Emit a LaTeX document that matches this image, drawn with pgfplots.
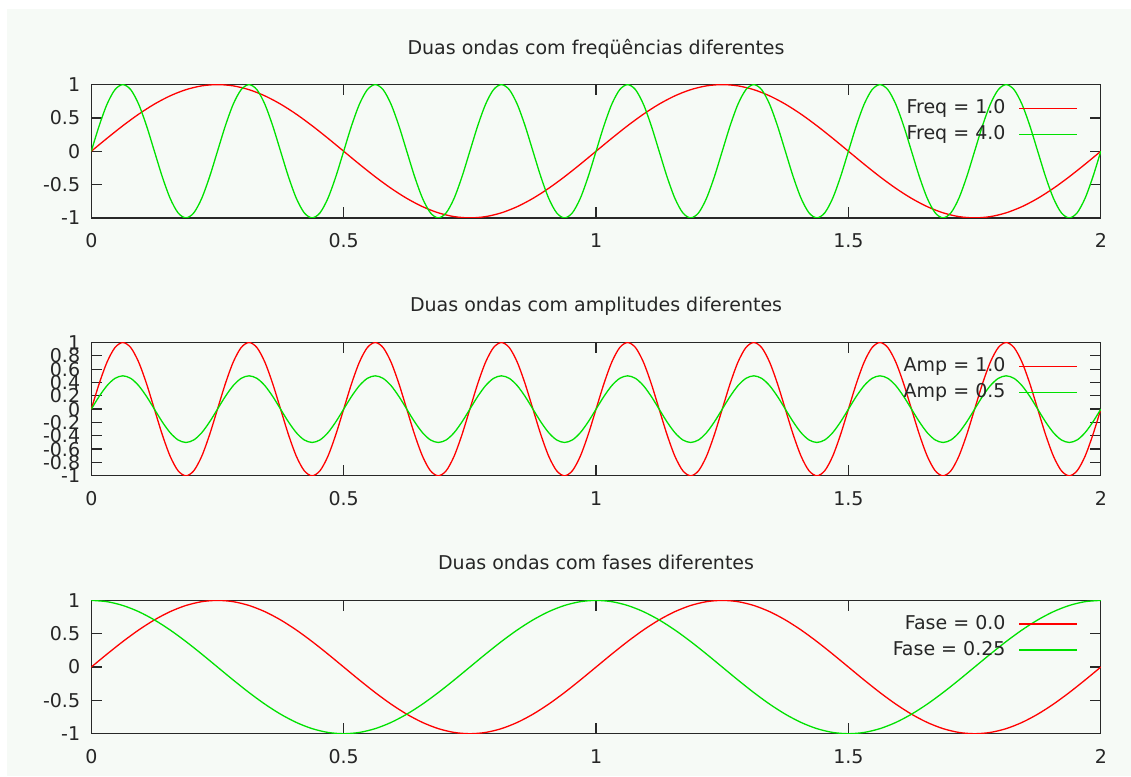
\documentclass[border=0pt]{standalone}
\usepackage{fontspec}
\setmainfont{DejaVu Sans}
\usepackage{pgfplots}
\pgfplotsset{compat=1.18}
\usepackage{pgfplotstable}

\definecolor{bgc}{RGB}{246,250,246}
\definecolor{wred}{RGB}{255,0,0}
\definecolor{wgreen}{RGB}{0,225,0}
\definecolor{frm}{RGB}{40,40,40}
\newcommand\fsz{\fontsize{19}{23}\selectfont}

% freq 1 sine and cosine, x step 1/32
\pgfplotstableread{
x s c
0 0 1
0.03125 0.1951 0.9808
0.0625 0.3827 0.9239
0.09375 0.5556 0.8315
0.125 0.7071 0.7071
0.15625 0.8315 0.5556
0.1875 0.9239 0.3827
0.21875 0.9808 0.1951
0.25 1 0
0.28125 0.9808 -0.1951
0.3125 0.9239 -0.3827
0.34375 0.8315 -0.5556
0.375 0.7071 -0.7071
0.40625 0.5556 -0.8315
0.4375 0.3827 -0.9239
0.46875 0.1951 -0.9808
0.5 0 -1
0.53125 -0.1951 -0.9808
0.5625 -0.3827 -0.9239
0.59375 -0.5556 -0.8315
0.625 -0.7071 -0.7071
0.65625 -0.8315 -0.5556
0.6875 -0.9239 -0.3827
0.71875 -0.9808 -0.1951
0.75 -1 0
0.78125 -0.9808 0.1951
0.8125 -0.9239 0.3827
0.84375 -0.8315 0.5556
0.875 -0.7071 0.7071
0.90625 -0.5556 0.8315
0.9375 -0.3827 0.9239
0.96875 -0.1951 0.9808
1 0 1
1.03125 0.1951 0.9808
1.0625 0.3827 0.9239
1.09375 0.5556 0.8315
1.125 0.7071 0.7071
1.15625 0.8315 0.5556
1.1875 0.9239 0.3827
1.21875 0.9808 0.1951
1.25 1 0
1.28125 0.9808 -0.1951
1.3125 0.9239 -0.3827
1.34375 0.8315 -0.5556
1.375 0.7071 -0.7071
1.40625 0.5556 -0.8315
1.4375 0.3827 -0.9239
1.46875 0.1951 -0.9808
1.5 0 -1
1.53125 -0.1951 -0.9808
1.5625 -0.3827 -0.9239
1.59375 -0.5556 -0.8315
1.625 -0.7071 -0.7071
1.65625 -0.8315 -0.5556
1.6875 -0.9239 -0.3827
1.71875 -0.9808 -0.1951
1.75 -1 0
1.78125 -0.9808 0.1951
1.8125 -0.9239 0.3827
1.84375 -0.8315 0.5556
1.875 -0.7071 0.7071
1.90625 -0.5556 0.8315
1.9375 -0.3827 0.9239
1.96875 -0.1951 0.9808
2 0 1
}\tabA

% freq 4 sine (amp 1 and amp 0.5), x step 1/64
\pgfplotstableread{
x f h
0 0 0
0.015625 0.3827 0.1913
0.03125 0.7071 0.3536
0.046875 0.9239 0.4619
0.0625 1 0.5
0.078125 0.9239 0.4619
0.09375 0.7071 0.3536
0.109375 0.3827 0.1913
0.125 0 0
0.140625 -0.3827 -0.1913
0.15625 -0.7071 -0.3536
0.171875 -0.9239 -0.4619
0.1875 -1 -0.5
0.203125 -0.9239 -0.4619
0.21875 -0.7071 -0.3536
0.234375 -0.3827 -0.1913
0.25 0 0
0.265625 0.3827 0.1913
0.28125 0.7071 0.3536
0.296875 0.9239 0.4619
0.3125 1 0.5
0.328125 0.9239 0.4619
0.34375 0.7071 0.3536
0.359375 0.3827 0.1913
0.375 0 0
0.390625 -0.3827 -0.1913
0.40625 -0.7071 -0.3536
0.421875 -0.9239 -0.4619
0.4375 -1 -0.5
0.453125 -0.9239 -0.4619
0.46875 -0.7071 -0.3536
0.484375 -0.3827 -0.1913
0.5 0 0
0.515625 0.3827 0.1913
0.53125 0.7071 0.3536
0.546875 0.9239 0.4619
0.5625 1 0.5
0.578125 0.9239 0.4619
0.59375 0.7071 0.3536
0.609375 0.3827 0.1913
0.625 0 0
0.640625 -0.3827 -0.1913
0.65625 -0.7071 -0.3536
0.671875 -0.9239 -0.4619
0.6875 -1 -0.5
0.703125 -0.9239 -0.4619
0.71875 -0.7071 -0.3536
0.734375 -0.3827 -0.1913
0.75 0 0
0.765625 0.3827 0.1913
0.78125 0.7071 0.3536
0.796875 0.9239 0.4619
0.8125 1 0.5
0.828125 0.9239 0.4619
0.84375 0.7071 0.3536
0.859375 0.3827 0.1913
0.875 0 0
0.890625 -0.3827 -0.1913
0.90625 -0.7071 -0.3536
0.921875 -0.9239 -0.4619
0.9375 -1 -0.5
0.953125 -0.9239 -0.4619
0.96875 -0.7071 -0.3536
0.984375 -0.3827 -0.1913
1 0 0
1.015625 0.3827 0.1913
1.03125 0.7071 0.3536
1.046875 0.9239 0.4619
1.0625 1 0.5
1.078125 0.9239 0.4619
1.09375 0.7071 0.3536
1.109375 0.3827 0.1913
1.125 0 0
1.140625 -0.3827 -0.1913
1.15625 -0.7071 -0.3536
1.171875 -0.9239 -0.4619
1.1875 -1 -0.5
1.203125 -0.9239 -0.4619
1.21875 -0.7071 -0.3536
1.234375 -0.3827 -0.1913
1.25 0 0
1.265625 0.3827 0.1913
1.28125 0.7071 0.3536
1.296875 0.9239 0.4619
1.3125 1 0.5
1.328125 0.9239 0.4619
1.34375 0.7071 0.3536
1.359375 0.3827 0.1913
1.375 0 0
1.390625 -0.3827 -0.1913
1.40625 -0.7071 -0.3536
1.421875 -0.9239 -0.4619
1.4375 -1 -0.5
1.453125 -0.9239 -0.4619
1.46875 -0.7071 -0.3536
1.484375 -0.3827 -0.1913
1.5 0 0
1.515625 0.3827 0.1913
1.53125 0.7071 0.3536
1.546875 0.9239 0.4619
1.5625 1 0.5
1.578125 0.9239 0.4619
1.59375 0.7071 0.3536
1.609375 0.3827 0.1913
1.625 0 0
1.640625 -0.3827 -0.1913
1.65625 -0.7071 -0.3536
1.671875 -0.9239 -0.4619
1.6875 -1 -0.5
1.703125 -0.9239 -0.4619
1.71875 -0.7071 -0.3536
1.734375 -0.3827 -0.1913
1.75 0 0
1.765625 0.3827 0.1913
1.78125 0.7071 0.3536
1.796875 0.9239 0.4619
1.8125 1 0.5
1.828125 0.9239 0.4619
1.84375 0.7071 0.3536
1.859375 0.3827 0.1913
1.875 0 0
1.890625 -0.3827 -0.1913
1.90625 -0.7071 -0.3536
1.921875 -0.9239 -0.4619
1.9375 -1 -0.5
1.953125 -0.9239 -0.4619
1.96875 -0.7071 -0.3536
1.984375 -0.3827 -0.1913
2 0 0
}\tabB

\pgfplotsset{
  wave/.style={
    scale only axis, width=1009.5pt, height=133.3pt,
    xmin=0, xmax=2, ymin=-1, ymax=1,
    xtick={0,0.5,1,1.5,2}, xticklabels={0,0.5,1,1.5,2},
    ytick={-1,-0.5,0,0.5,1}, yticklabels={-1,-0.5,0,0.5,1},
    tick align=inside, major tick length=10.5pt,
    axis line style={frm, line width=1.3pt},
    tick style={frm, line width=1.3pt},
    tick label style={font=\fsz, text=black!85, inner sep=0pt},
    xticklabel style={anchor=north, yshift=-15.5pt},
    yticklabel style={anchor=east, xshift=-11pt},
    title style={font=\fsz, text=black!85, at={(0.5,1)}, anchor=base, yshift=24.5pt, inner sep=0pt},
    legend style={draw=none, fill=none, at={(1,1)}, anchor=north east,
      xshift=-23pt, yshift=-15pt, inner sep=0pt, row sep=9pt, column sep=13.3pt,
      nodes={inner sep=0pt, text height=13.5pt, text depth=3.5pt}, font=\fsz, text=black!85},
    legend cell align=right, legend plot pos=right,
    legend image code/.code={\draw[##1, line width=1.3pt] (0pt,0pt) -- (57.5pt,0pt);},
  },
  rl/.style={wred, line width=1.3pt, smooth, tension=0.5},
  gl/.style={wgreen, line width=1.3pt, smooth, tension=0.5},
}

\begin{document}
\begin{tikzpicture}
\path[use as bounding box] (0pt,0pt) rectangle (1131pt,776pt);
\fill[white] (0pt,0pt) rectangle (1131pt,776pt);
\fill[bgc] (7pt,0pt) rectangle (1131pt,767pt);

\begin{axis}[wave, at={(91.3pt,558.1pt)}, anchor=south west,
  title={Duas ondas com freqüências diferentes}]
\addplot[rl] table[x=x, y=s] {\tabA};
\addlegendentry{Freq = 1.0}
\addplot[gl] table[x=x, y=f] {\tabB};
\addlegendentry{Freq = 4.0}
\end{axis}

\begin{axis}[wave, at={(91.3pt,300.2pt)}, anchor=south west,
  title={Duas ondas com amplitudes diferentes},
  ytick={-1,-0.8,-0.6,-0.4,-0.2,0,0.2,0.4,0.6,0.8,1},
  yticklabels={-1,-0.8,-0.6,-0.4,-0.2,0,0.2,0.4,0.6,0.8,1}]
\addplot[rl] table[x=x, y=f] {\tabB};
\addlegendentry{Amp = 1.0}
\addplot[gl] table[x=x, y=h] {\tabB};
\addlegendentry{Amp = 0.5}
\end{axis}

\begin{axis}[wave, at={(91.3pt,42.3pt)}, anchor=south west,
  title={Duas ondas com fases diferentes}]
\addplot[rl] table[x=x, y=s] {\tabA};
\addlegendentry{Fase = 0.0}
\addplot[gl] table[x=x, y=c] {\tabA};
\addlegendentry{Fase = 0.25}
\end{axis}
\end{tikzpicture}
\end{document}
